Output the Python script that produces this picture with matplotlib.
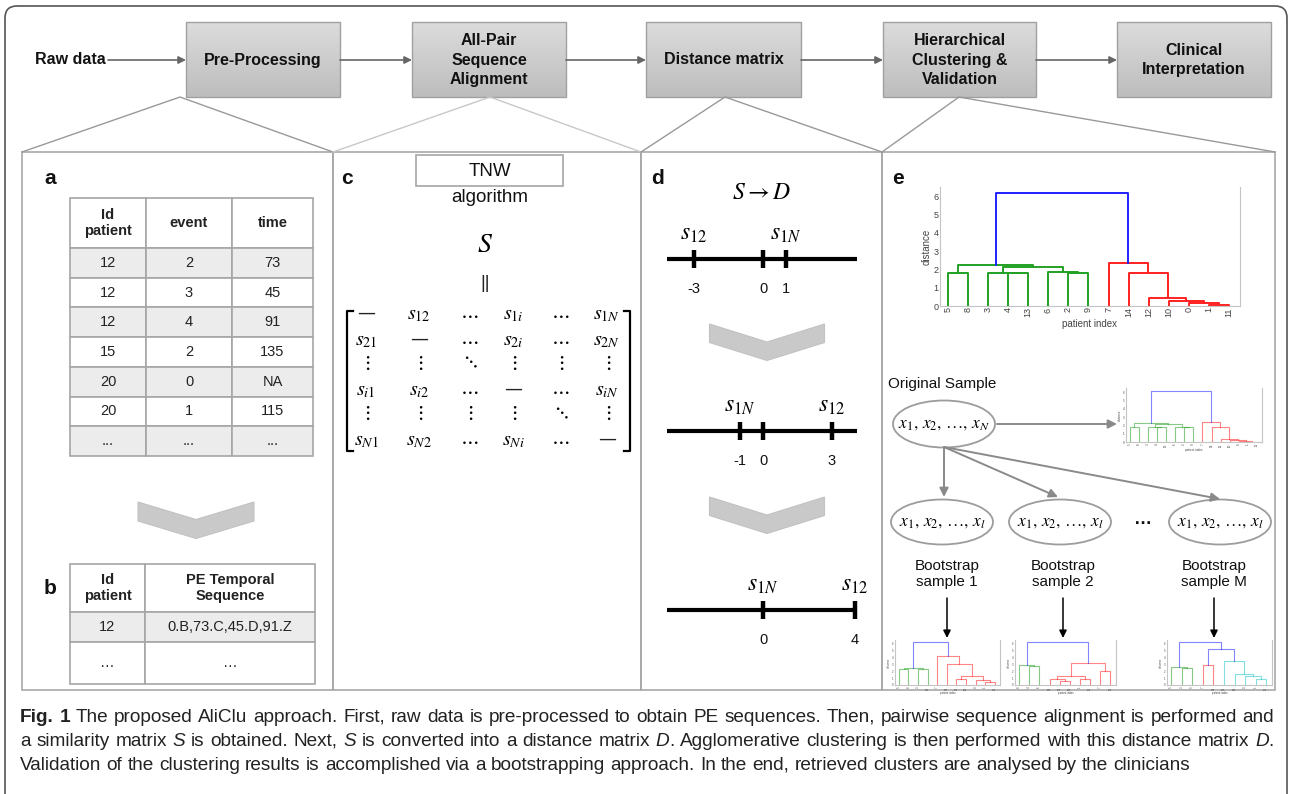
import numpy as np
import matplotlib
matplotlib.use('Agg')
import matplotlib.pyplot as plt
from matplotlib.patches import Rectangle, Polygon, Ellipse, FancyBboxPatch
from matplotlib.colors import LinearSegmentedColormap
from matplotlib import font_manager

# ---------------- data ----------------
raw_label = 'Raw data'
steps = ['Pre-Processing', 'All-Pair\nSequence\nAlignment', 'Distance matrix',
         'Hierarchical\nClustering &\nValidation', 'Clinical\nInterpretation']

table_a_header = ['Id\npatient', 'event', 'time']
table_a_rows = [['12', '2', '73'], ['12', '3', '45'], ['12', '4', '91'],
                ['15', '2', '135'], ['20', '0', 'NA'], ['20', '1', '115'],
                ['...', '...', '...']]
table_b_header = ['Id\npatient', 'PE Temporal\nSequence']
table_b_rows = [['12', '0.B,73.C,45.D,91.Z'], ['\u2026', '\u2026']]

DASH = '\u2014'
matrix = [[DASH, r'$s_{12}$', r'$\cdots$', r'$s_{1i}$', r'$\cdots$', r'$s_{1N}$'],
          [r'$s_{21}$', DASH, r'$\cdots$', r'$s_{2i}$', r'$\cdots$', r'$s_{2N}$'],
          [r'$\vdots$', r'$\vdots$', r'$\ddots$', r'$\vdots$', r'$\vdots$', r'$\vdots$'],
          [r'$s_{i1}$', r'$s_{i2}$', r'$\cdots$', DASH, r'$\cdots$', r'$s_{iN}$'],
          [r'$\vdots$', r'$\vdots$', r'$\vdots$', r'$\vdots$', r'$\ddots$', r'$\vdots$'],
          [r'$s_{N1}$', r'$s_{N2}$', r'$\cdots$', r'$s_{Ni}$', r'$\cdots$', DASH]]

nl_ticks = [[-3, 0, 1], [-1, 0, 3], [0, 4]]
nl_labels = [{-3: r'$s_{12}$', 1: r'$s_{1N}$'},
             {-1: r'$s_{1N}$', 3: r'$s_{12}$'},
             {0: r'$s_{1N}$', 4: r'$s_{12}$'}]

G, R, B, C = '#23a023', '#ff2020', '#2020ff', '#20c8c8'
main_leaves = [5, 8, 3, 4, 13, 6, 2, 9, 7, 14, 12, 10, 0, 1, 11]
green = ((5, 8, 1.80, G),
         ((3, (4, 13, 1.78, G), 1.82, G), (6, (2, 9, 1.82, G), 1.86, G), 2.15, G),
         2.25, G)
red = (7, (14, (12, (10, (0, (1, 11, 0.03, R), 0.17, R), 0.28, R), 0.42, R), 1.80, R), 2.35, R)
main_tree = (green, red, 6.15, B)

boot1_leaves = [5, 8, 3, 13, 7, 14, 12, 10, 0, 1, 11]
boot1_tree = (((5, 8, 2.3, G), (3, 13, 2.35, G), 2.5, G),
              (7, (14, ((12, 10, 0.9, R), (0, (1, 11, 0.5, R), 0.75, R), 1.25, R), 3.0, R), 4.25, R),
              6.25, B)
boot2_leaves = [8, 4, 6, 14, 12, 10, 1, 11, 7, 13]
boot2_tree = ((8, (4, 6, 2.7, G), 2.85, G),
              (((14, (12, 10, 0.6, R), 0.9, R), (1, 11, 0.9, R), 1.25, R), (7, 13, 2.0, R), 3.25, R),
              6.25, B)
bootM_leaves = [5, 3, 9, 7, 14, 12, 10, 0, 1, 11]
bootM_tree = ((5, (3, 9, 2.4, G), 2.6, G),
              ((7, 14, 2.85, R), (12, (10, (0, (1, 11, 0.9, C), 1.25, C), 1.6, C), 3.5, C), 5.15, B),
              6.25, B)

caption = [
    '^Fig.^ ^1^ The proposed AliClu approach. First, raw data is pre-processed to obtain PE sequences. '
    'Then, pairwise sequence alignment is performed and',
    'a similarity matrix *S* is obtained. Next, *S* is converted into a distance matrix *D*. '
    'Agglomerative clustering is then performed with this distance matrix *D*.',
    'Validation of the clustering results is accomplished via a bootstrapping approach. '
    'In the end, retrieved clusters are analysed by the clinicians',
]

# ---------------- figure ----------------
W, H = 1289, 794
plt.rcParams['font.family'] = ['Liberation Sans', 'DejaVu Sans']
plt.rcParams['mathtext.fontset'] = 'stix'

fig = plt.figure(figsize=(W / 100, H / 100), dpi=100)
ax = fig.add_axes([0, 0, 1, 1])
ax.set_xlim(0, W)
ax.set_ylim(H, 0)
ax.axis('off')
renderer = fig.canvas.get_renderer()

panel_grey = '#a8a8a8'

ax.add_patch(FancyBboxPatch((5, 6), 1282, 900, boxstyle='round,pad=0,rounding_size=12',
                            ec='#555555', fc='none', lw=1.2))

# top flow
box_x = [(186, 340), (412, 566), (646, 801), (883, 1036), (1117, 1271)]
by0, by1, bym = 22, 97, 60
grad = LinearSegmentedColormap.from_list('g', ['#dcdcdc', '#bdbdbd'])
for (x0, x1), name in zip(box_x, steps):
    ax.imshow(np.linspace(0, 1, 60).reshape(-1, 1), extent=(x0, x1, by1, by0),
              cmap=grad, aspect='auto', zorder=1)
    ax.add_patch(Rectangle((x0, by0), x1 - x0, by1 - by0, fc='none', ec='#a0a0a0', lw=1, zorder=2))
    ax.text((x0 + x1) / 2, bym, name, ha='center', va='center', fontsize=11.5,
            fontweight='bold', color='#111111', linespacing=1.35, zorder=3)

ax.text(70, bym, raw_label, ha='center', va='center', fontsize=11.5, fontweight='bold', color='#111')
arrow_kw = dict(arrowstyle='-|>', color='#666666', lw=1.2, mutation_scale=11, shrinkA=0, shrinkB=0)
starts = [108] + [b[1] for b in box_x[:-1]]
for sx, (x0, x1) in zip(starts, box_x):
    ax.annotate('', xy=(x0, bym), xytext=(sx, bym), arrowprops=arrow_kw)

# panels
pty, pby = 152, 690
px = [22, 333, 641, 882, 1275]
for x0, x1 in zip(px[:-1], px[1:]):
    ax.add_patch(Rectangle((x0, pty), x1 - x0, pby - pty, fc='none', ec=panel_grey, lw=1.2))

zoom_src = [(180, by1, 22, 333, '#999999'), (490, by1, 333, 641, '#c8c8c8'),
            (725, by1, 641, 882, '#999999'), (959, by1, 882, 1275, '#999999')]
for sx, sy, a, b, col in zoom_src:
    ax.plot([a, sx, b], [pty, sy, pty], color=col, lw=1)


def chevron(cx, ytop, hw, thick, dip):
    pts = [(cx - hw, ytop), (cx, ytop + dip), (cx + hw, ytop), (cx + hw, ytop + thick),
           (cx, ytop + dip + thick), (cx - hw, ytop + thick)]
    ax.add_patch(Polygon(pts, closed=True, fc='#c9c9c9', ec='#c2c2c2', lw=0.8))


def panel_letter(x, y, s):
    ax.text(x, y, s, ha='center', va='center', fontsize=15, fontweight='bold', color='#111')


def draw_table(cols, rows_y, header, rows, shade):
    for r in range(len(rows_y) - 1):
        y0, y1 = rows_y[r], rows_y[r + 1]
        fc = '#ececec' if shade(r) else 'white'
        for c in range(len(cols) - 1):
            x0, x1 = cols[c], cols[c + 1]
            ax.add_patch(Rectangle((x0, y0), x1 - x0, y1 - y0, fc=fc, ec='#a6a6a6', lw=1.2))
            if r == 0:
                txt, fw = header[c], 'bold'
            else:
                txt, fw = rows[r - 1][c], 'normal'
            ax.text((x0 + x1) / 2, (y0 + y1) / 2, txt, ha='center', va='center',
                    fontsize=10.5, fontweight=fw, color='#222', linespacing=1.2)


# panel a / b
panel_letter(50, 178, 'a')
rows_a = [198, 248] + [248 + 29.7 * (i + 1) for i in range(len(table_a_rows))]
draw_table([70, 146, 232, 313], rows_a, table_a_header, table_a_rows, lambda r: r % 2 == 1)
chevron(196, 502, 58, 19, 17.5)
panel_letter(50, 589, 'b')
draw_table([70, 145, 315], [564, 612, 642, 684], table_b_header, table_b_rows, lambda r: r == 1)

# panel c
panel_letter(347, 178, 'c')
ax.add_patch(Rectangle((416, 155), 147, 31, fc='white', ec='#a6a6a6', lw=1.2))
ax.text(490, 171, 'TNW', ha='center', va='center', fontsize=13.5, color='#111')
ax.text(490, 198, 'algorithm', ha='center', va='center', fontsize=13.5, color='#111')
ax.text(485, 245, r'$S$', ha='center', va='center', fontsize=20)
ax.text(485, 283, '||', ha='center', va='center', fontsize=13, color='#222')
mat_x = [366, 419, 469, 513, 560, 607]
mat_y = [315, 341, 362, 391, 413, 441]
for r, row in enumerate(matrix):
    for c, ent in enumerate(row):
        if ent == DASH:
            ax.text(mat_x[c], mat_y[r] - 2, ent, ha='center', va='center', fontsize=13,
                    family='DejaVu Sans', color='#222')
        else:
            ax.text(mat_x[c], mat_y[r], ent, ha='center', va='center', fontsize=14.5)
for xb, d in [(347, 6), (630, -6)]:
    ax.plot([xb + d, xb, xb, xb + d], [311, 311, 451, 451], color='k', lw=1.6)

# panel d
panel_letter(657, 178, 'd')
ax.text(762, 193, r'$S \rightarrow D$', ha='center', va='center', fontsize=17)
zero_x, unit = 763, 23
nl_y = [259, 431, 610]
nl_ext = [(667, 857), (667, 857), (667, 855)]
for y, (xl, xr), ticks, labs in zip(nl_y, nl_ext, nl_ticks, nl_labels):
    ax.plot([xl, xr], [y, y], color='k', lw=3, solid_capstyle='butt')
    for t in ticks:
        xt = zero_x + unit * t
        ax.plot([xt, xt], [y - 9, y + 9], color='k', lw=3.2, solid_capstyle='butt')
        ax.text(xt, y + 30, str(t), ha='center', va='center', fontsize=10.5, color='#111')
    for t, lab in labs.items():
        ax.text(zero_x + unit * t, y - 25, lab, ha='center', va='center', fontsize=17)
chevron(767, 324, 57.5, 18.5, 18)
chevron(767, 497, 57.5, 18.5, 18)


# panel e
def draw_tree(axd, node, leaves, lw, alpha):
    if not isinstance(node, tuple):
        return leaves.index(node), 0.0
    a, b, h, col = node
    xa, ya = draw_tree(axd, a, leaves, lw, alpha)
    xb, yb = draw_tree(axd, b, leaves, lw, alpha)
    axd.plot([xa, xa, xb, xb], [ya, h, h, yb], color=col, lw=lw, alpha=alpha)
    return (xa + xb) / 2, h


def dendro(rect, tree, leaves, lw, alpha, fs, lfs):
    x0, y0, x1, y1 = rect
    axd = fig.add_axes([x0 / W, 1 - y1 / H, (x1 - x0) / W, (y1 - y0) / H])
    draw_tree(axd, tree, leaves, lw, alpha)
    n = len(leaves)
    axd.set_xlim(-0.4, n - 0.45)
    axd.set_ylim(0, 6.5)
    axd.set_xticks(range(n))
    axd.set_xticklabels([str(v) for v in leaves], rotation=90, fontsize=fs, color='#444')
    axd.set_yticks(range(7))
    axd.set_yticklabels([str(v) for v in range(7)], fontsize=fs, color='#444')
    axd.tick_params(length=0, pad=1)
    for s in ['left', 'right', 'bottom']:
        axd.spines[s].set_color('#c4c4c4')
    axd.spines['top'].set_visible(False)
    axd.set_ylabel('distance', fontsize=lfs, color='#444', labelpad=1)
    axd.set_xlabel('patient index', fontsize=lfs, color='#444', labelpad=1)
    axd.patch.set_alpha(0)
    return axd


panel_letter(898, 178, 'e')
dendro((940, 187, 1240, 306), main_tree, main_leaves, 1.4, 1.0, 6.5, 7)
dendro((1126, 388, 1262, 442), main_tree, main_leaves, 0.8, 0.55, 2.2, 2.2)
dendro((895, 640, 1000, 685), boot1_tree, boot1_leaves, 0.8, 0.55, 2.0, 2.0)
dendro((1015, 640, 1116, 685), boot2_tree, boot2_leaves, 0.8, 0.55, 2.0, 2.0)
dendro((1167, 640, 1272, 685), bootM_tree, bootM_leaves, 0.8, 0.55, 2.0, 2.0)

ax.text(888, 384, 'Original Sample', ha='left', va='center', fontsize=11, color='#111')
ax.add_patch(Ellipse((944, 424), 102, 47, fc='none', ec='#9c9c9c', lw=1.3))
ax.text(944, 425, r'$x_1,\,x_2,\,\ldots,\,x_N$', ha='center', va='center', fontsize=12.5)
grey_arrow = dict(arrowstyle='-|>', color='#8a8a8a', lw=1.4, mutation_scale=13, shrinkA=0, shrinkB=0)
ax.annotate('', xy=(1117, 424), xytext=(997, 424), arrowprops=grey_arrow)
boot_x = [942, 1060, 1220]
boot_end = [(944, 497), (1058, 497), (1220, 499)]
for end in boot_end:
    ax.annotate('', xy=end, xytext=(944, 447), arrowprops=grey_arrow)
boot_names = ['Bootstrap\nsample 1', 'Bootstrap\nsample 2', 'Bootstrap\nsample M']
label_x = [947, 1063, 1214]
for bx, lx, name in zip(boot_x, label_x, boot_names):
    ax.add_patch(Ellipse((bx, 522), 102, 45, fc='none', ec='#9c9c9c', lw=1.3))
    ax.text(bx, 523, r'$x_1,\,x_2,\,\ldots,\,x_l$', ha='center', va='center', fontsize=12.5)
    ax.text(lx, 574, name, ha='center', va='center', fontsize=11, color='#111', linespacing=1.15)
    ax.annotate('', xy=(lx, 638), xytext=(lx, 598),
                arrowprops=dict(arrowstyle='-|>', color='k', lw=1.1, mutation_scale=11,
                                shrinkA=0, shrinkB=0))
ax.text(1143, 520, '\u2026', ha='center', va='center', fontsize=13, fontweight='bold', color='#111')


# caption
def has_font(name):
    try:
        font_manager.findfont(name, fallback_to_default=False)
        return True
    except Exception:
        return False


cap_family = 'Liberation Sans Narrow' if has_font('Liberation Sans Narrow') else 'Liberation Sans'


def parse_word(word):
    segs, cur, bold, ital = [], '', False, False
    for ch in word:
        if ch in '^*':
            if cur:
                segs.append((cur, bold, ital))
            cur = ''
            if ch == '^':
                bold = not bold
            else:
                ital = not ital
        else:
            cur += ch
    if cur:
        segs.append((cur, bold, ital))
    return segs


def seg_kw(bold, ital, size):
    return dict(fontsize=size, family=cap_family, fontweight='bold' if bold else 'normal',
                style='italic' if ital else 'normal', color='#222')


def width(s, **kw):
    t = ax.text(0, 0, s, **kw)
    w = t.get_window_extent(renderer).width
    t.remove()
    return w


def word_width(segs, size):
    return sum(width(s, **seg_kw(b, i, size)) for s, b, i in segs)


def line_widths(line, size):
    words = [parse_word(w) for w in line.split(' ')]
    ws = [word_width(s, size) for s in words]
    sp = width('a a', **seg_kw(False, False, size)) - width('aa', **seg_kw(False, False, size))
    return words, ws, sp


x_left, x_right = 20, 1274
words0, ws0, sp0 = line_widths(caption[0], 10)
cap_size = 10 * (x_right - x_left) / (sum(ws0) + sp0 * (len(ws0) - 1))
cap_y = [717, 741, 765]
for k, (line, y) in enumerate(zip(caption, cap_y)):
    words, ws, sp = line_widths(line, cap_size)
    if k < 2:
        gap = (x_right - x_left - sum(ws)) / (len(ws) - 1)
    else:
        gap = sp
    x = x_left
    for segs, w in zip(words, ws):
        xx = x
        for s, b, i in segs:
            ax.text(xx, y, s, ha='left', va='center', **seg_kw(b, i, cap_size))
            xx += width(s, **seg_kw(b, i, cap_size))
        x += w + gap

fig.savefig('out.png', dpi=100)
